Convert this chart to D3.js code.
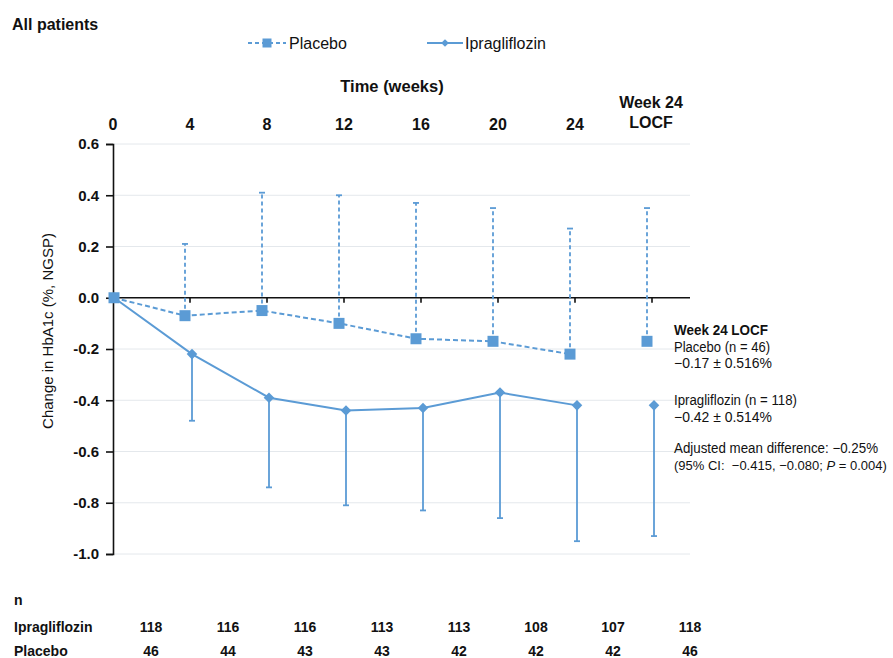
<!DOCTYPE html>
<html>
<head>
<meta charset="utf-8">
<script src="https://cdn.jsdelivr.net/npm/d3@7"></script>
<style>
  body { margin: 0; background: #fff; }
  text { font-family: "Liberation Sans", Arial, sans-serif; fill: #111; }
  .bold { font-weight: bold; }
</style>
</head>
<body>
<script>
// data
const weeks = [0, 4, 8, 12, 16, 20, 24, 28]; // 28 = "Week 24 LOCF" slot
const weekLabels = ["0", "4", "8", "12", "16", "20", "24"];
const placeboMean = [0, -0.07, -0.05, -0.10, -0.16, -0.17, -0.22, -0.17];
const placeboUpper = [null, 0.21, 0.41, 0.40, 0.37, 0.35, 0.27, 0.35];
const ipraMean = [0, -0.22, -0.39, -0.44, -0.43, -0.37, -0.42, -0.42];
const ipraLower = [null, -0.48, -0.74, -0.81, -0.83, -0.86, -0.95, -0.93];
const nIpra = [118, 116, 116, 113, 113, 108, 107, 118];
const nPlacebo = [46, 44, 43, 43, 42, 42, 42, 46];
const yTicks = [0.6, 0.4, 0.2, 0.0, -0.2, -0.4, -0.6, -0.8, -1.0];

const blue = "#5b9bd5";

const svg = d3.select("body").append("svg")
  .attr("width", 893).attr("height", 658);

const x = d3.scaleLinear().domain([0, 28]).range([112, 651]);
const y = d3.scaleLinear().domain([-1, 0.6]).range([554, 144]);
const offP = -4, offI = 3;

// grid
svg.append("g").selectAll("line").data(yTicks.filter(d => d !== 0))
  .enter().append("line")
  .attr("x1", 113).attr("x2", 690)
  .attr("y1", d => y(d)).attr("y2", d => y(d))
  .attr("stroke", "#e4e8ec").attr("stroke-width", 1);

// y axis
const yAxis = d3.axisLeft(y).tickValues(yTicks).tickSize(7).tickPadding(7)
  .tickFormat(d => d.toFixed(1));
const ya = svg.append("g").attr("transform", "translate(113,0)").call(yAxis);
ya.select(".domain").attr("stroke", "#111").attr("stroke-width", 1.6);
ya.selectAll(".tick line").attr("stroke", "#111").attr("stroke-width", 1.6);
ya.selectAll(".tick text").attr("class", "bold").style("font-size", "15px")
  .style("font-family", "Liberation Sans, Arial, sans-serif").attr("fill", "#111");

// zero line with tick marks
svg.append("line").attr("x1", 113).attr("x2", 690)
  .attr("y1", y(0)).attr("y2", y(0)).attr("stroke", "#111").attr("stroke-width", 1.6);
svg.append("g").selectAll("line").data(weeks.slice(1))
  .enter().append("line")
  .attr("x1", d => x(d) + 1).attr("x2", d => x(d) + 1)
  .attr("y1", y(0)).attr("y2", y(0) + 5)
  .attr("stroke", "#111").attr("stroke-width", 1.6);

// top week labels
svg.append("g").selectAll("text").data(weekLabels)
  .enter().append("text")
  .attr("class", "bold")
  .attr("x", (d, i) => x(weeks[i]) + 1).attr("y", 130)
  .attr("text-anchor", "middle").style("font-size", "16px")
  .text(d => d);
svg.append("text").attr("class", "bold").attr("text-anchor", "middle")
  .attr("x", x(28)).attr("y", 108).style("font-size", "16px").text("Week 24");
svg.append("text").attr("class", "bold").attr("text-anchor", "middle")
  .attr("x", x(28)).attr("y", 128).style("font-size", "16px").text("LOCF");
svg.append("text").attr("class", "bold").attr("text-anchor", "middle")
  .attr("x", 392).attr("y", 92).style("font-size", "16.5px").text("Time (weeks)");

// y label
svg.append("text").attr("transform", "translate(53,331) rotate(-90)")
  .attr("text-anchor", "middle").style("font-size", "15px")
  .text("Change in HbA1c (%, NGSP)");

// title
svg.append("text").attr("class", "bold").attr("x", 12).attr("y", 30)
  .style("font-size", "16px").text("All patients");

const px = (i, off) => i === 0 ? x(weeks[i]) + 2 : x(weeks[i]) + off;

// placebo error bars (up)
const pErr = svg.append("g");
placeboUpper.forEach((u, i) => {
  if (u === null) return;
  const cx = px(i, offP);
  pErr.append("line").attr("x1", cx).attr("x2", cx)
    .attr("y1", y(placeboMean[i])).attr("y2", y(u))
    .attr("stroke", blue).attr("stroke-width", 1.8).attr("stroke-dasharray", "4,3");
  pErr.append("line").attr("x1", cx - 3).attr("x2", cx + 3)
    .attr("y1", y(u)).attr("y2", y(u))
    .attr("stroke", blue).attr("stroke-width", 1.8);
});

// ipragliflozin error bars (down)
const iErr = svg.append("g");
ipraLower.forEach((l, i) => {
  if (l === null) return;
  const cx = px(i, offI);
  iErr.append("line").attr("x1", cx).attr("x2", cx)
    .attr("y1", y(ipraMean[i])).attr("y2", y(l))
    .attr("stroke", blue).attr("stroke-width", 1.8);
  iErr.append("line").attr("x1", cx - 3).attr("x2", cx + 3)
    .attr("y1", y(l)).attr("y2", y(l))
    .attr("stroke", blue).attr("stroke-width", 1.8);
});

// lines (weeks 0-24 only)
const lineP = d3.line().x((d, i) => px(i, offP)).y(d => y(d));
const lineI = d3.line().x((d, i) => px(i, offI)).y(d => y(d));
svg.append("path").datum(placeboMean.slice(0, 7)).attr("d", lineP)
  .attr("fill", "none").attr("stroke", blue).attr("stroke-width", 2)
  .attr("stroke-dasharray", "5,3");
svg.append("path").datum(ipraMean.slice(0, 7)).attr("d", lineI)
  .attr("fill", "none").attr("stroke", blue).attr("stroke-width", 2);

// markers
const sq = d3.symbol().type(d3.symbolSquare).size(121);
const dm = d3.symbol().type(d3.symbolSquare).size(56);
svg.append("g").selectAll("path").data(ipraMean).enter().append("path")
  .attr("d", dm).attr("fill", blue)
  .attr("transform", (d, i) => `translate(${px(i, offI)},${y(d)}) rotate(45)`);
svg.append("g").selectAll("path").data(placeboMean).enter().append("path")
  .attr("d", sq).attr("fill", blue)
  .attr("transform", (d, i) => `translate(${px(i, offP)},${y(d)})`);

// legend
const lg = svg.append("g").attr("transform", "translate(0,43)");
lg.append("line").attr("x1", 248).attr("x2", 286).attr("y1", 0).attr("y2", 0)
  .attr("stroke", blue).attr("stroke-width", 2).attr("stroke-dasharray", "4,3");
lg.append("path").attr("d", d3.symbol().type(d3.symbolSquare).size(81)())
  .attr("fill", blue).attr("transform", "translate(267,0)");
lg.append("text").attr("x", 289).attr("y", 6).style("font-size", "16px").text("Placebo");
lg.append("line").attr("x1", 427).attr("x2", 463).attr("y1", 0).attr("y2", 0)
  .attr("stroke", blue).attr("stroke-width", 2);
lg.append("path").attr("d", d3.symbol().type(d3.symbolSquare).size(30)())
  .attr("fill", blue).attr("transform", "translate(445,0) rotate(45)");
lg.append("text").attr("x", 465).attr("y", 6).style("font-size", "16px").text("Ipragliflozin");

// annotation
const ann = svg.append("g").style("font-size", "14px");
const annX = 674;
const annLine = (txt, yy, w, bold) => ann.append("text")
  .attr("class", bold ? "bold" : null)
  .attr("x", annX).attr("y", yy)
  .attr("textLength", w).attr("lengthAdjust", "spacingAndGlyphs")
  .text(txt);
annLine("Week 24 LOCF", 335, 94, true);
annLine("Placebo (n = 46)", 352, 96);
annLine("\u22120.17 \u00b1 0.516%", 368, 98);
annLine("Ipragliflozin  (n = 118)", 405, 123);
annLine("\u22120.42 \u00b1 0.514%", 422, 98);
annLine("Adjusted mean difference:  \u22120.25%", 453, 204);
// last line in pieces so the italic P sits cleanly
const ciParts = [["(95% CI:  \u22120.415, \u22120.080; ", "normal"], ["P", "italic"], [" = 0.004)", "normal"]];
let cx5 = annX;
ciParts.forEach(([s, st]) => {
  const t = ann.append("text").attr("x", cx5).attr("y", 470)
    .style("font-size", "13px").style("font-style", st)
    .style("white-space", "pre").attr("xml:space", "preserve").text(s);
  cx5 += t.node().getComputedTextLength();
});

// n table
const tbl = svg.append("g").style("font-size", "14px");
tbl.append("text").attr("class", "bold").attr("x", 14).attr("y", 605).text("n");
tbl.append("text").attr("class", "bold").attr("x", 14).attr("y", 632).text("Ipragliflozin");
tbl.append("text").attr("class", "bold").attr("x", 14).attr("y", 656).text("Placebo");
tbl.selectAll(".ni").data(nIpra).enter().append("text").attr("class", "bold")
  .attr("x", (d, i) => x(weeks[i]) + 39).attr("y", 632)
  .attr("text-anchor", "middle").text(d => d);
tbl.selectAll(".np").data(nPlacebo).enter().append("text").attr("class", "bold")
  .attr("x", (d, i) => x(weeks[i]) + 39).attr("y", 656)
  .attr("text-anchor", "middle").text(d => d);
</script>
</body>
</html>
